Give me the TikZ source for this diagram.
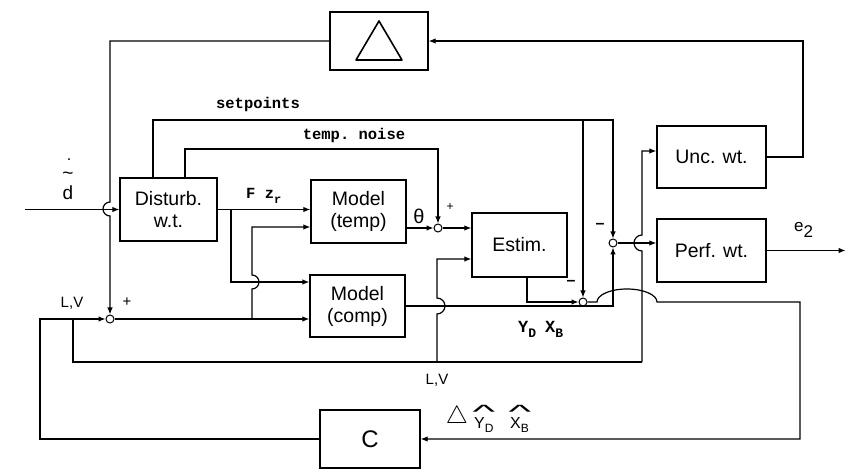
\documentclass[tikz,border=0pt]{standalone}
\usepackage{amsmath}
\usepackage{fontspec}
\setmainfont{Liberation Sans}
\setmonofont{Liberation Mono}
\usetikzlibrary{arrows.meta}

\begin{document}
\begin{tikzpicture}[
  x=1pt, y=-1pt,
  block/.style={draw, line width=1.3pt, align=center, inner sep=0pt,
    font=\fontsize{19.5}{22}\selectfont},
  sum/.style={draw, circle, line width=1pt, minimum size=8pt, inner sep=0pt},
  wire/.style={line width=1.2pt},
  sig/.style={wire, -{Latex[length=7pt, width=5.5pt]}},
  code/.style={font=\ttfamily\bfseries\fontsize{15.5}{17}\selectfont, inner sep=0pt},
  lbl/.style={font=\fontsize{15}{17}\selectfont, inner sep=0pt},
  hat/.style={font=\fontsize{16}{16}\selectfont, inner sep=0pt}
]
\useasboundingbox (0,0) rectangle (852,473);

% blocks
\node[block, minimum width=98pt, minimum height=58pt] (delta) at (379,41) {};
\node[block, minimum width=97pt, minimum height=63pt] (dist) at (168.5,209.5) {Disturb.\\w.t.};
\node[block, minimum width=95pt, minimum height=63pt] (mtemp) at (358.5,211.5) {Model\\(temp)};
\node[block, minimum width=95pt, minimum height=62pt] (mcomp) at (357.5,306) {Model\\(comp)};
\node[block, minimum width=95pt, minimum height=64pt] (estim) at (519.5,245) {Estim.};
\node[block, minimum width=109pt, minimum height=62pt] (unc) at (711.5,157) {Unc. wt.};
\node[block, minimum width=109pt, minimum height=63pt] (perf) at (711.5,250.5) {Perf. wt.};
\node[block, minimum width=100pt, minimum height=58pt, font=\fontsize{24}{26}\selectfont] (ctrl) at (370,439) {C};
\draw[line width=1.6pt, line join=round] (356,60) -- (379,21) -- (402,60) -- cycle;

% summing points
\node[sum] (s1) at (110,319) {};
\node[sum] (s2) at (438,228) {};
\node[sum] (s3) at (613,243) {};
\node[sum] (s4) at (583,302) {};

% corners and branch points
\coordinate (din) at (25,209.5);
\coordinate (sp) at (153,120);
\coordinate (tn) at (185,149);
\coordinate (fz) at (231,209.5);
\coordinate (fzb) at (231,282);
\coordinate (ub) at (252,319);
\coordinate (ut) at (252,227);
\coordinate (eo) at (527,302);
\coordinate (lv) at (73,319);
\coordinate (lvb) at (73,362);
\coordinate (lvm) at (437,362);
\coordinate (lve) at (642,362);
\coordinate (ei) at (437,259);
\coordinate (ui) at (642,151);
\coordinate (cl) at (40,439);
\coordinate (cr) at (800,302);
\coordinate (ur) at (803,157);

% outer loop
\draw[sig] (din) -- (dist.west);
\draw[sig] (delta.west) -- (delta.west -| s1) -- ++(0,161)
  arc[start angle=-90, end angle=-270, radius=7] -- (s1);
\draw[sig] (unc.east) -- (ur) -- (ur |- delta.east) -- (delta.east);
\draw[sig] (perf.east) -- ++(79,0);
\draw[sig] (ctrl.west) -- (cl) -- (cl |- s1) -- (s1);
\draw[sig] (s4) -- (597,302) arc[start angle=180, end angle=360, x radius=30, y radius=13]
  -- (cr) -- (cr |- ctrl.east) -- (ctrl.east);

% disturbance outputs
\draw[sig] (sp |- dist.north) -- (sp) -- (sp -| s3) -- (s3);
\draw[sig] (sp -| s4) -- (s4);
\draw[sig] (tn |- dist.north) -- (tn) -- (tn -| s2) -- (s2);
\draw[sig] (dist.east) -- (mtemp.west |- dist.east);
\draw[sig] (fz) -- (fzb) -- (fzb -| mcomp.west);

% inputs L,V
\draw[sig] (s1) -- (s1 -| mcomp.west);
\draw[sig] (ub) -- ++(0,-30) arc[start angle=90, end angle=-90, radius=7] -- (ut) -- (ut -| mtemp.west);
\draw[wire] (lv) -- (lvb) -- (lve);
\draw[sig] (lvm) -- ++(0,-48) arc[start angle=90, end angle=-90, radius=8] -- (ei) -- (ei -| estim.west);
\draw[sig] (lve) -- ++(0,-111) arc[start angle=90, end angle=270, radius=8] -- (ui) -- (ui -| unc.west);

% models, estimator, errors
\draw[sig] (mtemp.east |- s2) -- (s2);
\draw[sig] (s2) -- (s2 -| estim.west);
\draw[sig] (mcomp.east) -- (mcomp.east -| s3) -- (s3);
\draw[sig] (eo |- estim.south) -- (eo) -- (s4);
\draw[sig] (s3) -- (s3 -| perf.west);

% labels
\node[lbl, font=\fontsize{19}{20}\selectfont, anchor=base] (dlet) at (68,200) {d};
\node[lbl, font=\fontsize{19}{20}\selectfont, anchor=base] (dtil) at (68,180) {\~{}};
\node[lbl, font=\fontsize{16}{16}\selectfont, anchor=base] (ddot) at (69,161) {.};
\node[code] at (258,104) {setpoints};
\node[code] at (354,135) {temp. noise};
\node[code, anchor=base west] at (246,199) {F z\raisebox{-5pt}{\fontsize{12}{12}\selectfont r}};
\node[lbl, font=\fontsize{20}{22}\selectfont] at (419,216) {θ};
\node[lbl, font=\fontsize{12}{12}\selectfont] at (450,207) {+};
\node[lbl] at (127,302) {+};
\node[lbl] at (72,303) {L,V};
\node[lbl] at (437,380) {L,V};
\node[lbl, font=\bfseries\fontsize{16}{16}\selectfont] at (600,226) {–};
\node[lbl, font=\bfseries\fontsize{16}{16}\selectfont] at (571,283) {–};
\node[code, font=\ttfamily\bfseries\fontsize{17}{18}\selectfont, anchor=base west] at (518,333)
  {Y\raisebox{-5pt}{\fontsize{13}{13}\selectfont D}\hspace{9pt}X\raisebox{-5pt}{\fontsize{13}{13}\selectfont B}};
\node[lbl, font=\fontsize{17}{19}\selectfont, anchor=base west] at (794,232) {e\raisebox{-6pt}{2}};
\node[lbl, font=\fontsize{24}{24}\selectfont] (dlbl) at (457,417) {$\bigtriangleup$};
\node[lbl, font=\fontsize{16}{18}\selectfont, anchor=base west] (ylbl) at (474,428)
  {Y\raisebox{-4pt}{\fontsize{12}{12}\selectfont D}};
\node[lbl, font=\fontsize{16}{18}\selectfont, anchor=base west] (xlbl) at (510,428)
  {X\raisebox{-4pt}{\fontsize{12}{12}\selectfont B}};
\node[hat, anchor=base] (yhat) at (484,418) {\scalebox{3}[1.2]{\^{}}};
\node[hat, anchor=base] (xhat) at (520,418) {\scalebox{3}[1.2]{\^{}}};
\end{tikzpicture}
\end{document}
